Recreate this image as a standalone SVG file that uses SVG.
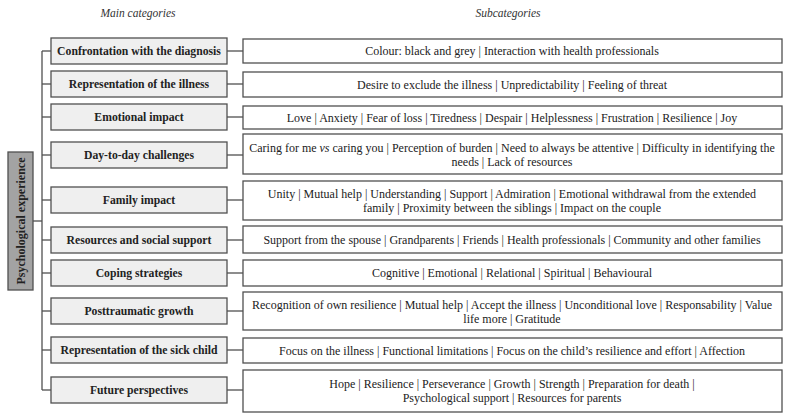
<svg xmlns="http://www.w3.org/2000/svg" width="790" height="417" viewBox="0 0 790 417">
<style>
.bg{fill:#ffffff}
.main rect{fill:#efefef;stroke:#505050;stroke-width:1.3}
.sub rect{fill:#ffffff;stroke:#505050;stroke-width:1.3}
.main text{font-family:"Liberation Serif",serif;font-weight:bold;font-size:11.7px;fill:#222;text-anchor:middle;dominant-baseline:central}
.sub text{font-family:"Liberation Serif",serif;font-size:12px;fill:#222;text-anchor:middle;dominant-baseline:central}
.hdr{font-family:"Liberation Serif",serif;font-style:italic;font-size:11.5px;fill:#333;text-anchor:middle}
.conn line{stroke:#505050;stroke-width:1.3}
#root rect{fill:#a3a3a3;stroke:#505050;stroke-width:1.3}
#root text{font-family:"Liberation Serif",serif;font-weight:bold;font-size:12px;fill:#222;text-anchor:middle;dominant-baseline:central}
</style>
<rect class="bg" x="0" y="0" width="790" height="417"/>
<text class="hdr" x="138" y="17">Main categories</text>
<text class="hdr" x="508" y="17">Subcategories</text>

<g class="conn">
<line x1="42" y1="51" x2="42" y2="390"/>
<line x1="33" y1="221" x2="42" y2="221"/>
<line x1="42" y1="51" x2="51" y2="51"/><line x1="227" y1="51" x2="243" y2="51"/>
<line x1="42" y1="84" x2="51" y2="84"/><line x1="227" y1="84" x2="243" y2="84"/>
<line x1="42" y1="117" x2="51" y2="117"/><line x1="227" y1="117" x2="243" y2="117"/>
<line x1="42" y1="155" x2="51" y2="155"/><line x1="227" y1="155" x2="243" y2="155"/>
<line x1="42" y1="200" x2="51" y2="200"/><line x1="227" y1="200" x2="243" y2="200"/>
<line x1="42" y1="240" x2="51" y2="240"/><line x1="227" y1="240" x2="243" y2="240"/>
<line x1="42" y1="273" x2="51" y2="273"/><line x1="227" y1="273" x2="243" y2="273"/>
<line x1="42" y1="311" x2="51" y2="311"/><line x1="227" y1="311" x2="243" y2="311"/>
<line x1="42" y1="350" x2="51" y2="350"/><line x1="227" y1="350" x2="243" y2="350"/>
<line x1="42" y1="390" x2="51" y2="390"/><line x1="227" y1="390" x2="243" y2="390"/>
</g>

<g id="root">
<rect x="8" y="152" width="25" height="138"/>
<text transform="translate(20.5,221) rotate(-90)" x="0" y="0">Psychological experience</text>
</g>

<g id="m1" class="main"><rect x="51" y="38" width="176" height="26"/><text x="139" y="51">Confrontation with the diagnosis</text></g>
<g id="m2" class="main"><rect x="51" y="71" width="176" height="26"/><text x="139" y="84">Representation of the illness</text></g>
<g id="m3" class="main"><rect x="51" y="104" width="176" height="26"/><text x="139" y="117">Emotional impact</text></g>
<g id="m4" class="main"><rect x="51" y="142" width="176" height="26"/><text x="139" y="155">Day-to-day challenges</text></g>
<g id="m5" class="main"><rect x="51" y="187" width="176" height="26"/><text x="139" y="200">Family impact</text></g>
<g id="m6" class="main"><rect x="51" y="227" width="176" height="26"/><text x="139" y="240">Resources and social support</text></g>
<g id="m7" class="main"><rect x="51" y="260" width="176" height="26"/><text x="139" y="273">Coping strategies</text></g>
<g id="m8" class="main"><rect x="51" y="298" width="176" height="26"/><text x="139" y="311">Posttraumatic growth</text></g>
<g id="m9" class="main"><rect x="51" y="337" width="176" height="26"/><text x="139" y="350">Representation of the sick child</text></g>
<g id="m10" class="main"><rect x="51" y="377" width="176" height="26"/><text x="139" y="390">Future perspectives</text></g>

<g id="s1" class="sub"><rect x="243" y="39" width="539" height="24"/><text x="512" y="51">Colour: black and grey | Interaction with health professionals</text></g>
<g id="s2" class="sub"><rect x="243" y="72" width="539" height="25"/><text x="512" y="84.5">Desire to exclude the illness | Unpredictability | Feeling of threat</text></g>
<g id="s3" class="sub"><rect x="243" y="106" width="539" height="23"/><text x="512" y="117.5">Love | Anxiety | Fear of loss | Tiredness | Despair | Helplessness | Frustration | Resilience | Joy</text></g>
<g id="s4" class="sub"><rect x="243" y="134" width="539" height="40"/><text x="512" y="147.5">Caring for me <tspan font-style="italic">vs</tspan> caring you | Perception of burden | Need to always be attentive | Difficulty in identifying the</text><text x="512" y="161.5">needs | Lack of resources</text></g>
<g id="s5" class="sub"><rect x="243" y="181" width="539" height="39"/><text x="512" y="194">Unity | Mutual help | Understanding | Support | Admiration | Emotional withdrawal from the extended</text><text x="512" y="208">family |  Proximity between the siblings | Impact on the couple</text></g>
<g id="s6" class="sub"><rect x="243" y="226" width="539" height="27"/><text x="512" y="239.5">Support from the spouse | Grandparents | Friends | Health professionals  | Community and other families</text></g>
<g id="s7" class="sub"><rect x="243" y="260" width="539" height="26"/><text x="512" y="273">Cognitive | Emotional | Relational | Spiritual | Behavioural</text></g>
<g id="s8" class="sub"><rect x="243" y="292" width="539" height="38"/><text x="512" y="305">Recognition of own resilience | Mutual help | Accept  the illness | Unconditional love | Responsability | Value</text><text x="512" y="318.5">life more | Gratitude</text></g>
<g id="s9" class="sub"><rect x="243" y="338" width="539" height="25"/><text x="512" y="350.5">Focus on the illness | Functional limitations | Focus on the child’s resilience and effort | Affection</text></g>
<g id="s10" class="sub"><rect x="243" y="370" width="539" height="42"/><text x="512" y="384">Hope | Resilience  | Perseverance | Growth | Strength | Preparation for death |</text><text x="512" y="398">Psychological support | Resources for parents</text></g>
</svg>
